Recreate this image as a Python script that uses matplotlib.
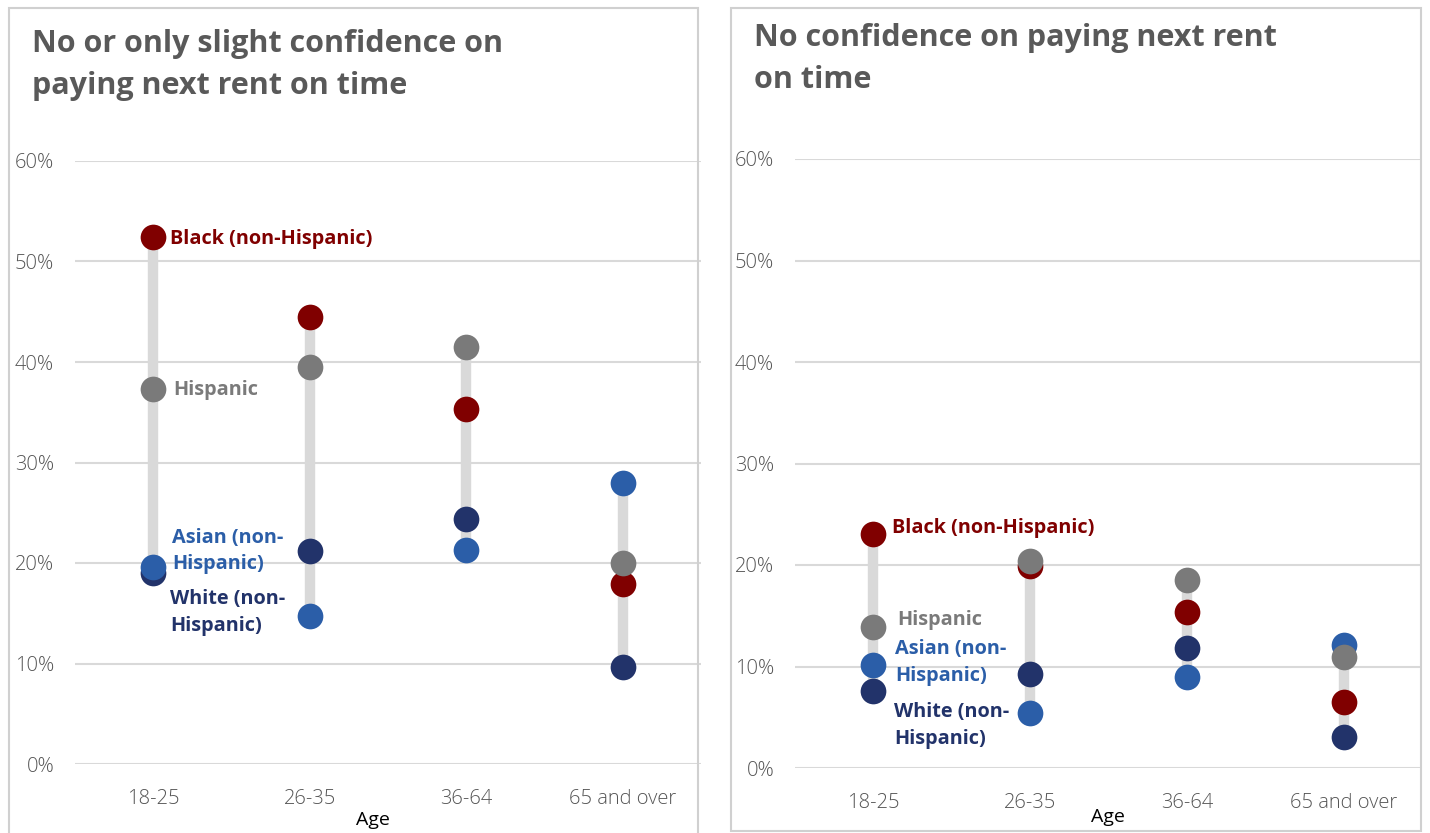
import matplotlib
matplotlib.use("Agg")
import matplotlib.pyplot as plt
from matplotlib.patches import Rectangle

W, H = 1430, 833
DPI = 100

categories = ["18-25", "26-35", "36-64", "65 and over"]
groups = ["White (non-\nHispanic)", "Asian (non-\nHispanic)", "Black (non-Hispanic)", "Hispanic"]
colors = ["#22336a", "#2b5ea8", "#800000", "#7a7a7a"]

# Left panel: No or only slight confidence (%)
left_white = [19.0, 21.2, 24.4, 9.7]
left_asian = [19.6, 14.7, 21.3, 28.0]
left_black = [52.4, 44.5, 35.3, 17.9]
left_hisp = [37.3, 39.5, 41.5, 20.0]

# Right panel: No confidence (%)
right_white = [7.6, 9.3, 11.8, 3.1]
right_asian = [10.1, 5.4, 9.0, 12.1]
right_black = [23.1, 19.9, 15.4, 6.5]
right_hisp = [13.9, 20.4, 18.5, 10.9]

y_ticks = [0, 10, 20, 30, 40, 50, 60]
y_tick_labels = ["0%", "10%", "20%", "30%", "40%", "50%", "60%"]

title_left = "No or only slight confidence on\npaying next rent on time"
title_right = "No confidence on paying next rent\non time"

plt.rcParams['font.family'] = ['Open Sans', 'DejaVu Sans']

fig = plt.figure(figsize=(W / DPI, H / DPI), dpi=DPI)

def px_axes(x0, x1, y_top, y_bot):
    return fig.add_axes([x0 / W, 1 - y_bot / H, (x1 - x0) / W, (y_bot - y_top) / H])

# panel borders
fig.patches.append(Rectangle((9 / W, 1 - 840 / H), (698 - 9) / W, (840 - 8) / H,
                             transform=fig.transFigure, fill=False, edgecolor="#d0d0d0", lw=1.5))
fig.patches.append(Rectangle((731 / W, 1 - 831 / H), (1421 - 731) / W, (831 - 8) / H,
                             transform=fig.transFigure, fill=False, edgecolor="#d0d0d0", lw=1.5))

def panel(ax, series, label_pos, age_xy):
    ax.set_xlim(-0.5, 3.5)
    ax.set_ylim(0, 60)
    x = list(range(len(categories)))
    for i in x:
        vals = [s[i] for s in series]
        ax.plot([i, i], [min(vals), max(vals)], color="#d9d9d9", lw=7.5,
                solid_capstyle="butt", zorder=2)
    for s, c in zip(series, colors):
        ax.plot(x, s, linestyle="none", marker="o", ms=18.5, color=c,
                markeredgewidth=0, zorder=3, clip_on=False)
    for (g, c, (lx, ly)) in zip(groups, colors, label_pos):
        ax.text(lx, ly, g, color=c, fontsize=14.3, fontweight="bold",
                ha="left", va="center", linespacing=1.45, transform=ax.transData,
                zorder=4)
    ax.set_yticks(y_ticks)
    ax.set_yticklabels(y_tick_labels)
    ax.set_xticks(x)
    ax.set_xticklabels(categories)
    ax.grid(axis="y", color="#d9d9d9", lw=1.5)
    ax.set_axisbelow(True)
    for sp in ax.spines.values():
        sp.set_visible(False)
    ax.tick_params(axis="y", length=0, pad=15, labelsize=14.5, labelcolor="#555555")
    ax.tick_params(axis="x", length=0, pad=18, labelsize=14.5, labelcolor="#555555")
    for t in ax.get_yticklabels() + ax.get_xticklabels():
        t.set_fontweight("light")
    fig.text(age_xy[0] / W, 1 - age_xy[1] / H, "Age", fontsize=14, color="black",
             ha="center", va="center")

axL = px_axes(75, 701, 161, 764)
panel(axL, [left_white, left_asian, left_black, left_hisp],
      [(0.11, 15.1), (0.12, 21.2), (0.11, 52.2), (0.13, 37.2)], (373, 820))

axR = px_axes(795, 1422, 159, 768)
panel(axR, [right_white, right_asian, right_black, right_hisp],
      [(0.13, 4.2), (0.14, 10.4), (0.12, 23.6), (0.15, 14.6)], (1108, 817))

fig.text(32 / W, 1 - 65 / H, title_left, fontsize=22, fontweight="bold",
         color="#595959", ha="left", va="center", linespacing=1.5)
fig.text(754 / W, 1 - 59 / H, title_right, fontsize=22, fontweight="bold",
         color="#595959", ha="left", va="center", linespacing=1.5)

fig.savefig("out.png", dpi=DPI)
